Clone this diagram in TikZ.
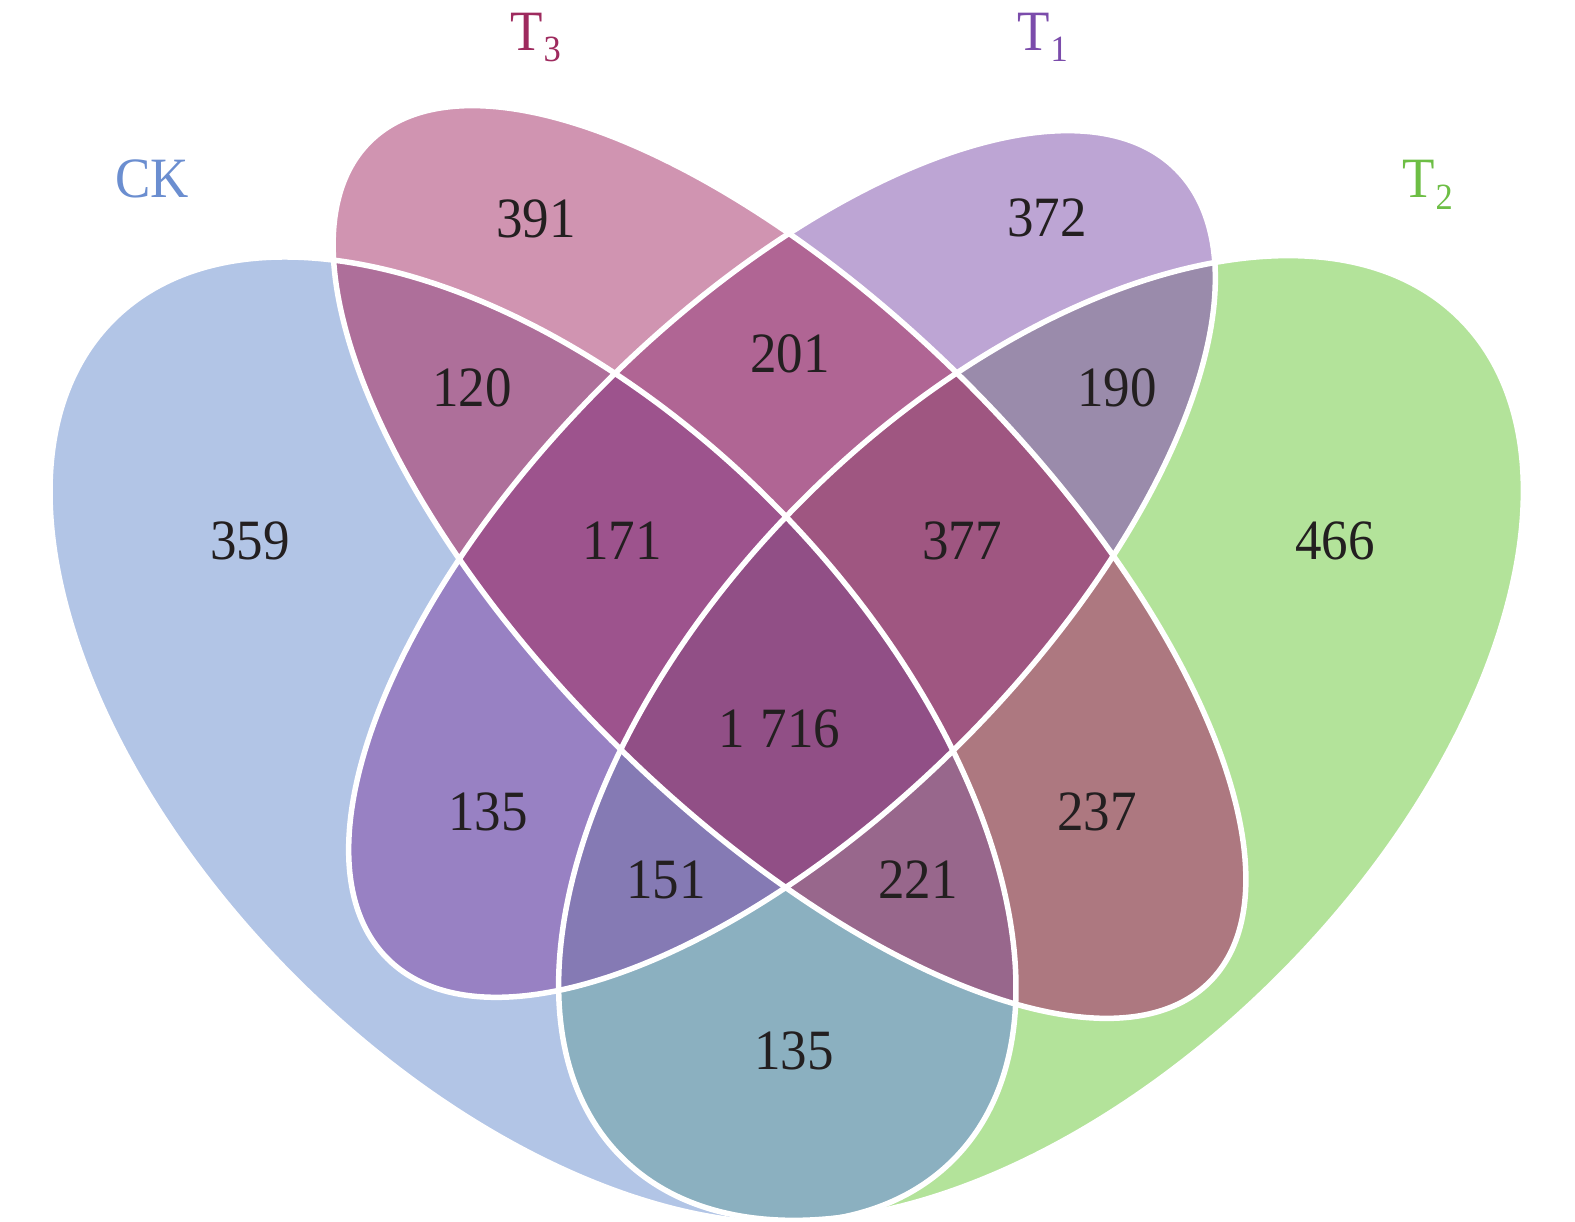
\documentclass[tikz,border=0pt]{standalone}
\usepackage{fontspec}
\setmainfont{Liberation Serif}[FakeStretch=0.93]
\definecolor{cCK}{HTML}{B2C5E6}
\definecolor{cTC}{HTML}{D094B1}
\definecolor{cTA}{HTML}{BDA5D4}
\definecolor{cTB}{HTML}{B3E39A}
\definecolor{cCKTC}{HTML}{AE6F9A}
\definecolor{cTCTA}{HTML}{B06594}
\definecolor{cTATB}{HTML}{9A8BAB}
\definecolor{cCKTA}{HTML}{9881C3}
\definecolor{cTCTB}{HTML}{AD7880}
\definecolor{cCKTB}{HTML}{8BB0C0}
\definecolor{cCKTCTA}{HTML}{9D538D}
\definecolor{cTCTATB}{HTML}{9F5681}
\definecolor{cCKTATB}{HTML}{857AB4}
\definecolor{cCKTCTB}{HTML}{98678C}
\definecolor{cAll}{HTML}{914F86}
\definecolor{numc}{HTML}{231F20}
\definecolor{labCK}{HTML}{6B8ED0}
\definecolor{labTC}{HTML}{9E2A5E}
\definecolor{labTA}{HTML}{7B4CAB}
\definecolor{labTB}{HTML}{6DBE45}
\newcommand\clipCK{\clip[rotate around={-45:(533,482)}] (533,482) ellipse [x radius=594, y radius=337];}
\newcommand\clipTB{\clip[rotate around={45:(1041,484)}] (1041,484) ellipse [x radius=593, y radius=337];}
\newcommand\clipTC{\clip[rotate around={-45:(789.5,660)}] (789.5,660) ellipse [x radius=594, y radius=252];}
\newcommand\clipTA{\clip[rotate around={45:(782,658)}] (782,658) ellipse [x radius=558, y radius=253];}
\newcommand\region[2]{\begin{scope}#2\fill[#1] (0,0) rectangle (1575,1222);\end{scope}}
\newcommand\subf{\fontsize{37}{40}\selectfont}
\tikzset{
  num/.style={font=\fontsize{57}{60}\selectfont, text=numc, inner sep=0pt},
  lab/.style={font=\fontsize{57}{60}\selectfont, inner sep=0pt, anchor=base west},
  rim/.style={draw=white, line width=5.5pt}
}
\begin{document}
\begin{tikzpicture}[x=1pt,y=1pt]
\useasboundingbox (0,0) rectangle (1575,1222);
\fill[white] (0,0) rectangle (1575,1222);
% single sets
\region{cCK}{\clipCK}
\region{cTC}{\clipTC}
\region{cTA}{\clipTA}
\region{cTB}{\clipTB}
% pairs
\region{cCKTC}{\clipCK\clipTC}
\region{cTCTA}{\clipTC\clipTA}
\region{cTATB}{\clipTA\clipTB}
\region{cCKTA}{\clipCK\clipTA}
\region{cTCTB}{\clipTC\clipTB}
\region{cCKTB}{\clipCK\clipTB}
% triples
\region{cCKTCTA}{\clipCK\clipTC\clipTA}
\region{cTCTATB}{\clipTC\clipTA\clipTB}
\region{cCKTATB}{\clipCK\clipTA\clipTB}
\region{cCKTCTB}{\clipCK\clipTC\clipTB}
% all four
\region{cAll}{\clipCK\clipTC\clipTA\clipTB}
% white outlines
\draw[rim, rotate around={-45:(533,482)}] (533,482) ellipse [x radius=594, y radius=337];
\draw[rim, rotate around={45:(1041,484)}] (1041,484) ellipse [x radius=593, y radius=337];
\draw[rim, rotate around={-45:(789.5,660)}] (789.5,660) ellipse [x radius=594, y radius=252];
\draw[rim, rotate around={45:(782,658)}] (782,658) ellipse [x radius=558, y radius=253];
% set labels
\node[lab, text=labCK] (labCK) at (115,1024) {CK};
\node[lab, text=labTC] (labTC) at (510,1171) {T\kern1pt\raisebox{-11pt}{\subf 3}};
\node[lab, text=labTA] (labTA) at (1017,1171) {T\kern1pt\raisebox{-11pt}{\subf 1}};
\node[lab, text=labTB] (labTB) at (1402,1024) {T\kern1pt\raisebox{-12pt}{\subf 2}};
% counts
\node[num] (n359) at (250,681) {359};
\node[num] (n391) at (536,1003) {391};
\node[num] (n372) at (1047,1004) {372};
\node[num] (n466) at (1335,681) {466};
\node[num] (n120) at (472,834) {120};
\node[num] (n201) at (790,868) {201};
\node[num] (n190) at (1117,834) {190};
\node[num] (n171) at (622,681) {171};
\node[num] (n377) at (962,681) {377};
\node[num] (n1716) at (779.5,493.5) {1\hspace{0.28em}716};
\node[num] (n135a) at (488,410) {135};
\node[num] (n151) at (666,342) {151};
\node[num] (n221) at (918,342) {221};
\node[num] (n237) at (1097,410) {237};
\node[num] (n135b) at (794,171) {135};
\end{tikzpicture}
\end{document}
